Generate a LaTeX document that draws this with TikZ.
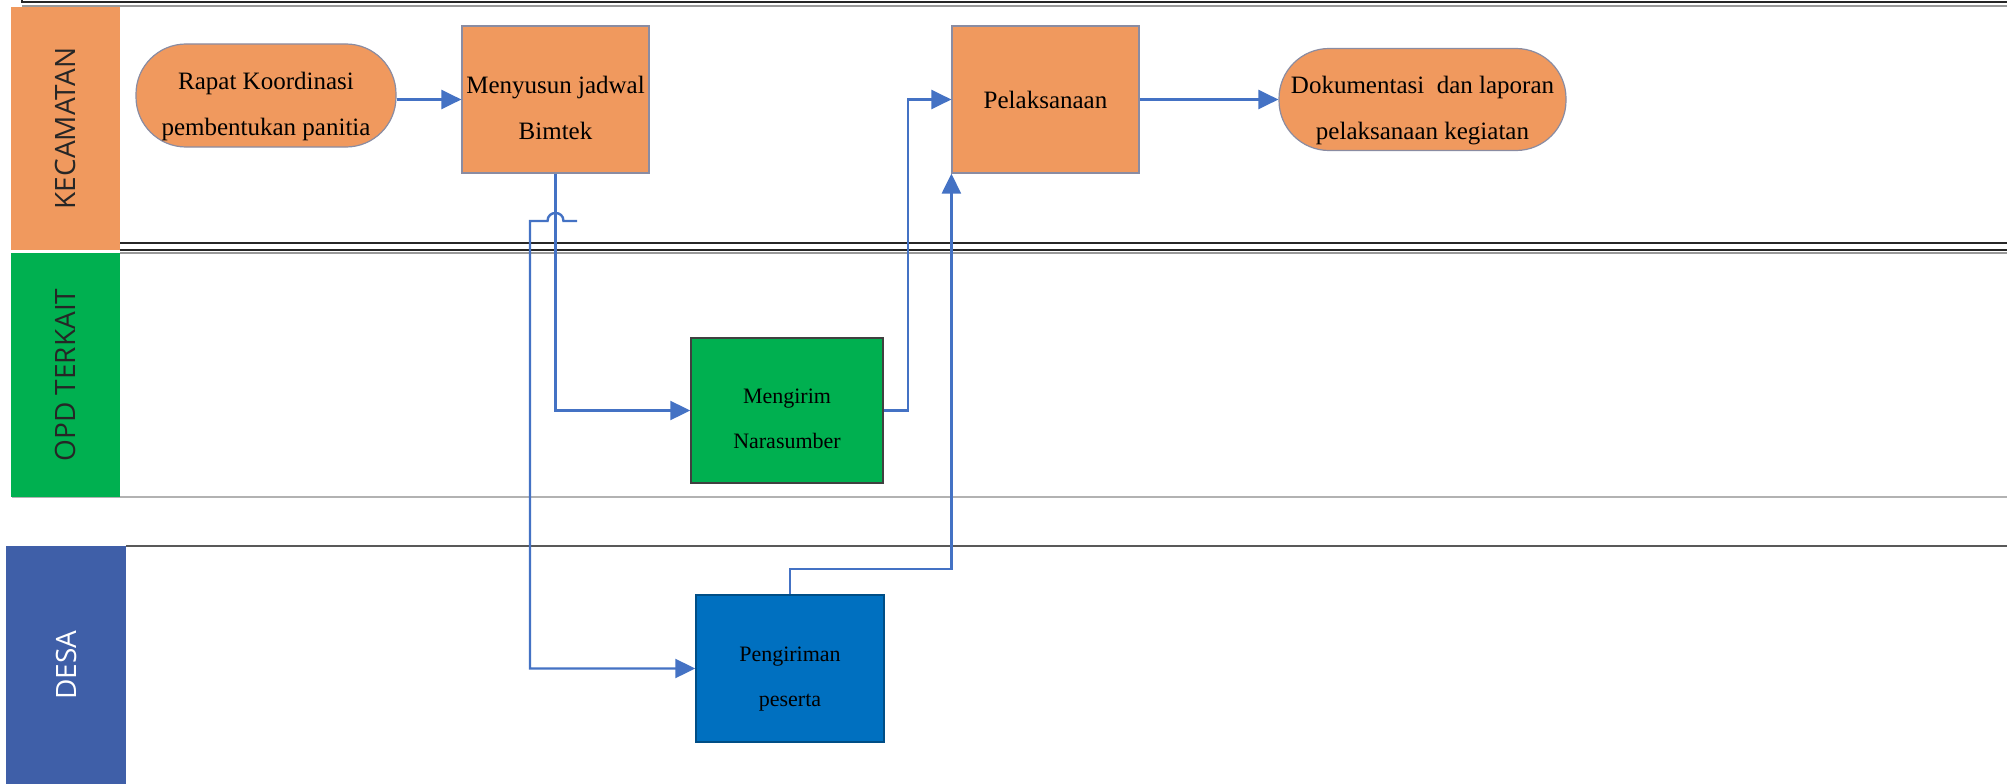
\documentclass[tikz,border=0pt]{standalone}
\usepackage{fontspec}
\setmainfont{Liberation Serif}
\newfontfamily\lanefont{Open Sans}
\usetikzlibrary{arrows.meta,calc}

\definecolor{kecorange}{HTML}{F0995E}
\definecolor{opdgreen}{HTML}{00B050}
\definecolor{desablue}{HTML}{3F5FA8}
\definecolor{stepblue}{HTML}{0070C0}
\definecolor{flowblue}{HTML}{4472C4}
\definecolor{boxedge}{HTML}{8A8CA2}

% text sizes: large steps and small steps, double-spaced lines
\newcommand\bigtxt{\fontsize{25}{46}\selectfont}
\newcommand\smalltxt{\fontsize{22}{45}\selectfont}
% struts that push two-line labels slightly below the box centre
\newcommand\liftbig{\rule{0pt}{39pt}}
\newcommand\liftsmall{\rule{0pt}{36pt}}
\newcommand\dropline{\rule[-6pt]{0pt}{6pt}}

\begin{document}
\begin{tikzpicture}[x=1pt,y=-1pt,
  lanehead/.style={inner sep=0pt, rotate=90, font=\lanefont\fontsize{28}{30}\selectfont},
  stepbox/.style={draw=boxedge, line width=1.2pt, inner sep=0pt, align=center,
                  fill=kecorange, font=\bigtxt},
  termbox/.style={stepbox, rounded corners=50pt},
  smallbox/.style={inner sep=0pt, align=center, font=\smalltxt, line width=1.5pt},
  flow/.style={draw=flowblue, line width=2.4pt, -{Triangle[length=20pt,width=19pt]}},
  rule/.style={line width=2pt},
]
\useasboundingbox (0,0) rectangle (2007,784);
\fill[white] (0,0) rectangle (2007,784);

% ---- swimlane frame lines ----
\draw[rule, black!85] (22,0) -- (22,2.5) -- (2007,2.5);
\draw[line width=1.5pt, black!40] (22,6) -- (2007,6);
\draw[rule, black!85] (120,243) -- (2007,243);
\draw[rule, black!85] (120,249.5) -- (2007,249.5);
\draw[line width=1.5pt, black!40] (120,253) -- (2007,253);
\draw[line width=2.5pt, black!30] (12,497) -- (2007,497);
\draw[rule, black!65] (126,546) -- (2007,546);

% ---- lane headers ----
\node[lanehead, fill=kecorange, text=black!85, minimum width=243pt, minimum height=109pt]
  (hkec) at (65.5,128.5) {KECAMATAN};
\node[lanehead, fill=opdgreen, text=black!85, minimum width=244pt, minimum height=109pt]
  (hopd) at (65.5,375) {OPD TERKAIT};
\node[lanehead, fill=desablue, text=white, minimum width=238pt, minimum height=120pt]
  (hdesa) at (66,665) {DESA};

% ---- process steps ----
\node[termbox, minimum width=260pt, minimum height=103pt] (rapat) at (266,95.5)
  {\liftbig Rapat Koordinasi\\pembentukan panitia\dropline};
\node[stepbox, minimum width=187pt, minimum height=147pt] (menyusun) at (555.5,99.5)
  {\liftbig Menyusun jadwal\\Bimtek\dropline};
\node[stepbox, minimum width=187pt, minimum height=147pt] (pelaksanaan) at (1045.5,99.5)
  {Pelaksanaan};
\node[termbox, minimum width=287pt, minimum height=102pt] (dok) at (1422.5,99.5)
  {\liftbig Dokumentasi\ \ dan laporan\\pelaksanaan kegiatan\dropline};
\node[smallbox, fill=opdgreen, draw=black!75, minimum width=192pt, minimum height=145pt]
  (mengirim) at (787,410.5) {\liftsmall Mengirim\\Narasumber\dropline};
\node[smallbox, fill=stepblue, draw=stepblue!70!black, minimum width=188pt, minimum height=147pt]
  (pengiriman) at (790,668.5) {\liftsmall Pengiriman\\peserta\dropline};

% ---- connectors ----
\draw[flow] (rapat.east |- menyusun.west) -- (menyusun.west);
\draw[flow] (menyusun.south) |- (mengirim.west);
\coordinate (jstart) at (577,221);
\coordinate (jmid) at (menyusun.south |- jstart);
\draw[flow] (jstart) -- ($(jmid)+(8,0)$)
  .. controls ($(jmid)+(8,-10.7)$) and ($(jmid)+(-8,-10.7)$) .. ($(jmid)+(-8,0)$)
  -- (530,221) |- (pengiriman.west);
\draw[flow] (mengirim.east) -- ++(24,0) |- (pelaksanaan.west);
\draw[flow] (pengiriman.north) -- ++(0,-25) -| (pelaksanaan.south west);
\draw[flow] (pelaksanaan.east) -- (dok.west);
\end{tikzpicture}
\end{document}
